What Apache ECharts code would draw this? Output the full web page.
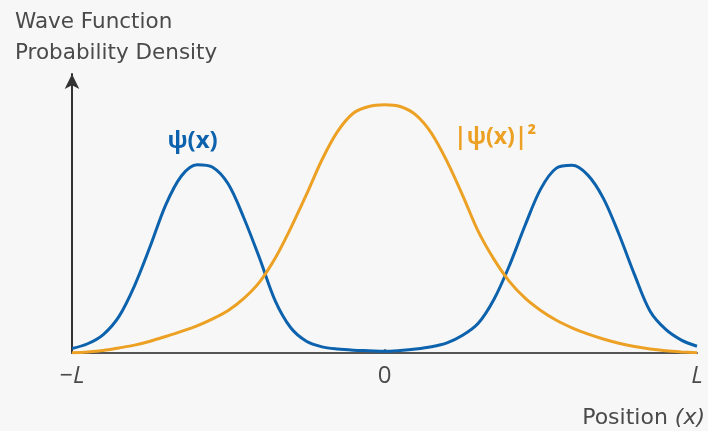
<!DOCTYPE html>
<html>
<head>
<meta charset="utf-8">
<script src="https://cdn.jsdelivr.net/npm/echarts@6/dist/echarts.min.js"></script>
<style>
  html, body { margin: 0; padding: 0; background: #f7f7f7; }
  #chart { width: 708px; height: 431px; }
</style>
</head>
<body>
<div id="chart"></div>
<script>
  // position, from -L (-1) to L (1)
  var positions = [-1, -0.95, -0.9, -0.85, -0.8, -0.75, -0.7, -0.65, -0.6, -0.55, -0.5,
    -0.45, -0.4, -0.35, -0.3, -0.25, -0.2, -0.15, -0.1, -0.05, 0,
    0.05, 0.1, 0.15, 0.2, 0.25, 0.3, 0.35, 0.4, 0.45, 0.5,
    0.55, 0.6, 0.65, 0.7, 0.75, 0.8, 0.85, 0.9, 0.95, 1];
  // wave function psi(x)
  var psiValues = [0.016, 0.033, 0.066, 0.13, 0.24, 0.38, 0.529, 0.632, 0.672, 0.663, 0.603,
    0.482, 0.339, 0.187, 0.09, 0.042, 0.022, 0.014, 0.01, 0.008, 0.006,
    0.009, 0.014, 0.022, 0.036, 0.063, 0.106, 0.191, 0.313, 0.456, 0.586,
    0.66, 0.67, 0.636, 0.553, 0.425, 0.28, 0.149, 0.084, 0.046, 0.024];
  // probability density |psi(x)|^2
  var densityValues = [0.001, 0.004, 0.009, 0.018, 0.028, 0.042, 0.059, 0.077, 0.097, 0.122, 0.152,
    0.195, 0.253, 0.338, 0.446, 0.565, 0.69, 0.791, 0.856, 0.88, 0.886,
    0.88, 0.85, 0.785, 0.684, 0.563, 0.434, 0.335, 0.255, 0.196, 0.152,
    0.117, 0.09, 0.068, 0.05, 0.035, 0.023, 0.014, 0.008, 0.004, 0.001];
  var xTickValues = [-1, 0, 1];
  var xTickLabels = ['\u2212L', '0', 'L'];

  var textColor = '#4a4a4a';
  var blue = '#0d62ad';
  var orange = '#eca124';
  var font = 'DejaVu Sans';
  var labelFont = 'Open Sans';

  function pairs(ys) {
    var out = [];
    for (var i = 0; i < positions.length; i++) {
      out.push([positions[i], ys[i]]);
    }
    return out;
  }

  var chart = echarts.init(document.getElementById('chart'));
  var options = {
    backgroundColor: '#f7f7f7',
    animation: false,
    textStyle: { fontFamily: font },
    title: [
      {
        text: 'Wave Function\nProbability Density',
        left: 15,
        top: 7,
        padding: 0,
        textStyle: { fontFamily: font, fontWeight: 'normal', fontSize: 21.5, lineHeight: 31, color: textColor }
      },
      {
        text: 'Position {i|(x)}',
        right: 3,
        top: 407,
        padding: 0,
        textStyle: {
          fontFamily: font, fontWeight: 'normal', fontSize: 22, color: textColor,
          rich: { i: { fontFamily: font, fontSize: 22, fontStyle: 'italic', color: textColor } }
        }
      }
    ],
    grid: {
      left: 72,
      right: 11,
      top: 74,
      bottom: 78
    },
    xAxis: {
      type: 'value',
      min: -1,
      max: 1,
      splitLine: { show: false },
      axisLine: { onZero: false, lineStyle: { color: '#555', width: 2 } },
      axisTick: { show: true, customValues: [0], inside: true, length: 4, lineStyle: { color: '#555', width: 1.5 } },
      axisLabel: {
        customValues: xTickValues,
        margin: 11,
        fontSize: 24,
        color: textColor,
        fontFamily: labelFont,
        formatter: function (v) {
          var idx = xTickValues.indexOf(v);
          var s = idx >= 0 ? xTickLabels[idx] : '';
          return s === '0' ? s : '{i|' + s + '}';
        },
        rich: { i: { fontStyle: 'italic', fontSize: 24, color: textColor, fontFamily: labelFont } }
      }
    },
    yAxis: {
      type: 'value',
      min: 0,
      max: 0.996,
      splitLine: { show: false },
      axisTick: { show: false },
      axisLabel: { show: false },
      axisLine: {
        show: true,
        onZero: false,
        symbol: ['none', 'arrow'],
        symbolSize: [11, 15],
        lineStyle: { color: '#333', width: 2 }
      }
    },
    series: [
      {
        name: 'psi',
        type: 'line',
        smooth: 0.33,
        showSymbol: false,
        data: pairs(psiValues),
        lineStyle: { color: blue, width: 3 },
        itemStyle: { color: blue },
        markPoint: {
          symbol: 'circle',
          symbolSize: 0,
          label: {
            show: true,
            position: 'inside',
            formatter: '\u03c8(x)',
            fontSize: 24,
            fontWeight: 'bold',
            color: blue,
            fontFamily: labelFont
          },
          data: [{ coord: [-0.614, 0.755] }]
        }
      },
      {
        name: 'density',
        type: 'line',
        smooth: 0.33,
        showSymbol: false,
        data: pairs(densityValues),
        lineStyle: { color: orange, width: 3 },
        itemStyle: { color: orange },
        markPoint: {
          symbol: 'circle',
          symbolSize: 0,
          label: {
            show: true,
            position: 'inside',
            formatter: '|\u03c8(x)|\u00b2',
            fontSize: 23,
            fontWeight: 'bold',
            color: orange,
            fontFamily: labelFont
          },
          data: [{ coord: [0.354, 0.768] }]
        }
      }
    ]
  };
  chart.setOption(options);
</script>
</body>
</html>
